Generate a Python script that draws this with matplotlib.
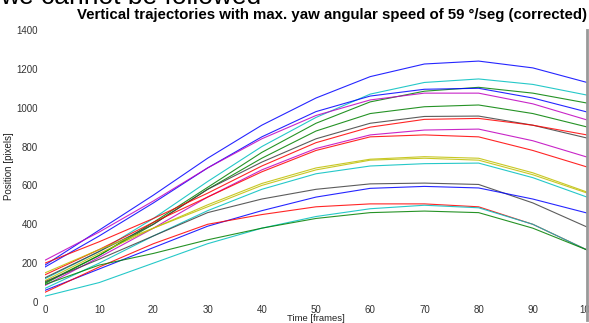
import matplotlib
matplotlib.use('Agg')
import matplotlib.pyplot as plt
from matplotlib.lines import Line2D

plt.rcParams['font.family'] = ['Liberation Sans', 'DejaVu Sans']

frames = [0, 10, 20, 30, 40, 50, 60, 70, 80, 90, 100]

# vertical position [pixels] of every trajectory, read at the frames above
blue_1 = [190, 370, 550, 740, 910, 1050, 1160, 1225, 1240, 1205, 1130]
cyan_1 = [120, 260, 430, 620, 800, 950, 1070, 1130, 1148, 1120, 1065]
green_1 = [100, 240, 410, 590, 770, 920, 1030, 1085, 1105, 1075, 1024]
blue_2 = [180, 340, 510, 690, 850, 980, 1060, 1095, 1100, 1050, 978]
magenta_1 = [215, 360, 520, 690, 840, 960, 1040, 1075, 1075, 1020, 937]
green_2 = [95, 240, 400, 580, 740, 880, 970, 1005, 1014, 970, 901]
grey_1 = [125, 260, 400, 580, 720, 840, 920, 955, 957, 910, 844]
red_1 = [200, 310, 430, 560, 700, 820, 900, 940, 945, 910, 860]
magenta_2 = [85, 230, 380, 540, 680, 790, 860, 885, 890, 830, 746]
red_2 = [140, 270, 410, 540, 670, 780, 850, 860, 850, 780, 695]
yellow_1 = [110, 250, 380, 500, 610, 690, 735, 748, 740, 665, 566]
yellow_2 = [150, 270, 380, 490, 600, 680, 730, 740, 730, 655, 561]
cyan_2 = [70, 200, 340, 470, 580, 660, 700, 712, 715, 640, 540]
grey_2 = [105, 220, 340, 460, 530, 580, 608, 612, 605, 510, 386]
blue_3 = [60, 170, 280, 390, 470, 540, 585, 595, 587, 530, 458]
red_3 = [50, 180, 300, 400, 450, 490, 505, 505, 490, 400, 268]
cyan_3 = [30, 100, 200, 300, 380, 440, 480, 498, 485, 400, 268]
green_3 = [90, 190, 250, 320, 380, 430, 460, 468, 460, 380, 268]

curves = [
    (blue_1, '#0000ff'), (cyan_1, '#00bfbf'), (green_1, '#008000'),
    (blue_2, '#0000ff'), (magenta_1, '#bf00bf'), (green_2, '#008000'),
    (grey_1, '#404040'), (red_1, '#ff0000'), (magenta_2, '#bf00bf'),
    (red_2, '#ff0000'), (yellow_1, '#bfbf00'), (yellow_2, '#bfbf00'),
    (cyan_2, '#00bfbf'), (grey_2, '#404040'), (blue_3, '#0000ff'),
    (red_3, '#ff0000'), (cyan_3, '#00bfbf'), (green_3, '#008000'),
]

fig = plt.figure(figsize=(5.89, 3.23), dpi=100)
ax = fig.add_axes([45 / 589, 21 / 323, 542 / 589, 272 / 323])

for vals, col in curves:
    ax.plot(frames, vals, color=col, lw=0.8, alpha=0.85)

ax.set_xlim(0, 100)
ax.set_ylim(0, 1400)
ax.set_xticks(range(0, 101, 10))
ax.set_yticks(range(0, 1401, 200))
ax.tick_params(which='major', length=0, labelsize=7, labelcolor='#333333')
ax.tick_params(axis='x', which='major', pad=2)
ax.tick_params(axis='y', which='major', pad=5)
ax.set_xticks([10, 40, 70, 90], minor=True)
ax.set_yticks([600], minor=True)
ax.tick_params(which='minor', direction='in', length=5, width=0.7, color='#444444',
               top=True, right=True)

for side in ['left', 'top', 'bottom', 'right']:
    ax.spines[side].set_visible(False)
fig.add_artist(Line2D([587 / 589, 587 / 589], [3 / 323, 293 / 323],
                      color='#999999', lw=2))

ax.set_xlabel('Time [frames]', fontsize=6.8, color='#222222')
ax.xaxis.set_label_coords(0.5, -0.043)
ax.set_ylabel('Position [pixels]', fontsize=7, color='#222222')
ax.yaxis.set_label_coords(-0.058, 0.5)
ax.set_title('Vertical trajectories with max. yaw angular speed of 59 °/seg (corrected)',
             fontsize=10.8, fontweight='bold', color='black', x=0.53, pad=8)

fig.text(0.0, 1 - 4 / 323, 'we cannot be followed', fontsize=19,
         ha='left', va='baseline', color='black')

fig.savefig('out.png', dpi=100)
